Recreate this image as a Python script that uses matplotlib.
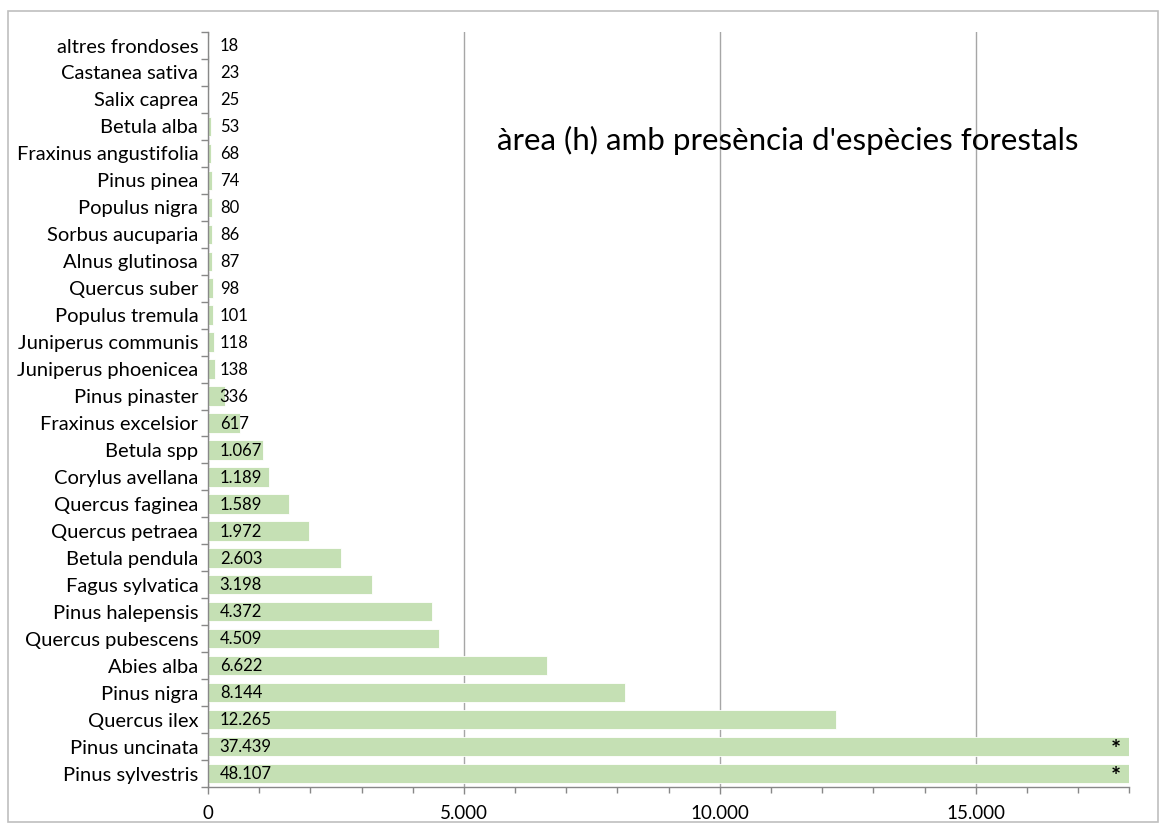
import matplotlib
matplotlib.use("Agg")
import matplotlib.pyplot as plt
from matplotlib.ticker import MultipleLocator, FuncFormatter
from matplotlib.patches import Rectangle
import numpy as np

species = ["Pinus sylvestris", "Pinus uncinata", "Quercus ilex", "Pinus nigra", "Abies alba",
           "Quercus pubescens", "Pinus halepensis", "Fagus sylvatica", "Betula pendula",
           "Quercus petraea", "Quercus faginea", "Corylus avellana", "Betula spp",
           "Fraxinus excelsior", "Pinus pinaster", "Juniperus phoenicea", "Juniperus communis",
           "Populus tremula", "Quercus suber", "Alnus glutinosa", "Sorbus aucuparia",
           "Populus nigra", "Pinus pinea", "Fraxinus angustifolia", "Betula alba",
           "Salix caprea", "Castanea sativa", "altres frondoses"]
area = [48107, 37439, 12265, 8144, 6622, 4509, 4372, 3198, 2603, 1972, 1589, 1189, 1067,
        617, 336, 138, 118, 101, 98, 87, 86, 80, 74, 68, 53, 25, 23, 18]
x_max = 18000
title = "àrea (h) amb presència d'espècies forestals"

plt.rcParams['font.family'] = ['Lato', 'DejaVu Sans']

def fmt(v):
    return f"{int(v):,}".replace(",", ".")

fig = plt.figure(figsize=(11.65, 8.3), dpi=100)
ax = fig.add_axes([0.1785, 0.0518, 0.9694 - 0.1785, 0.9614 - 0.0518])

y = np.arange(len(species))
ax.barh(y, area, height=0.72, color='#c5e0b4', edgecolor='white', linewidth=0.6, zorder=2)

ax.set_xlim(0, x_max)
ax.set_ylim(-0.5, len(species) - 0.5)

ax.xaxis.set_major_locator(MultipleLocator(5000))
ax.xaxis.set_minor_locator(MultipleLocator(1000))
ax.xaxis.set_major_formatter(FuncFormatter(lambda v, p: fmt(v)))
ax.grid(axis='x', which='major', color='#a6a6a6', linewidth=1.0, zorder=1)

ax.set_yticks(y)
ax.set_yticklabels(species)
ax.set_yticks(np.arange(-0.5, len(species), 1), minor=True)
ax.tick_params(axis='y', which='major', length=0, pad=7, labelsize=14.5)
ax.tick_params(axis='y', which='minor', length=5, color='#888888', width=1)
ax.tick_params(axis='x', which='major', length=5, color='#888888', width=1, labelsize=13.5, pad=8)
ax.tick_params(axis='x', which='minor', length=4, color='#888888', width=1)

for s in ['top', 'right']:
    ax.spines[s].set_visible(False)
for s in ['left', 'bottom']:
    ax.spines[s].set_color('#888888')
    ax.spines[s].set_linewidth(1.0)

for yi, v in zip(y, area):
    ax.annotate(fmt(v), xy=(0, yi), xytext=(8.5, -0.5), textcoords='offset points',
                ha='left', va='center', fontsize=12, zorder=3)
    if v > x_max:
        ax.annotate('*', xy=(x_max, yi), xytext=(-6, -3), textcoords='offset points',
                    ha='right', va='center', fontsize=17, fontweight='bold', zorder=3)

fig.text(497 / 1165, 1 - 140 / 830, title, ha='left', va='center', fontsize=22.5)

fig.patches.append(Rectangle((8 / 1165, 8 / 830), 1150 / 1165, 811 / 830, transform=fig.transFigure,
                             fill=False, edgecolor='#bfbfbf', linewidth=1.2))

fig.savefig('out.png', dpi=100)
